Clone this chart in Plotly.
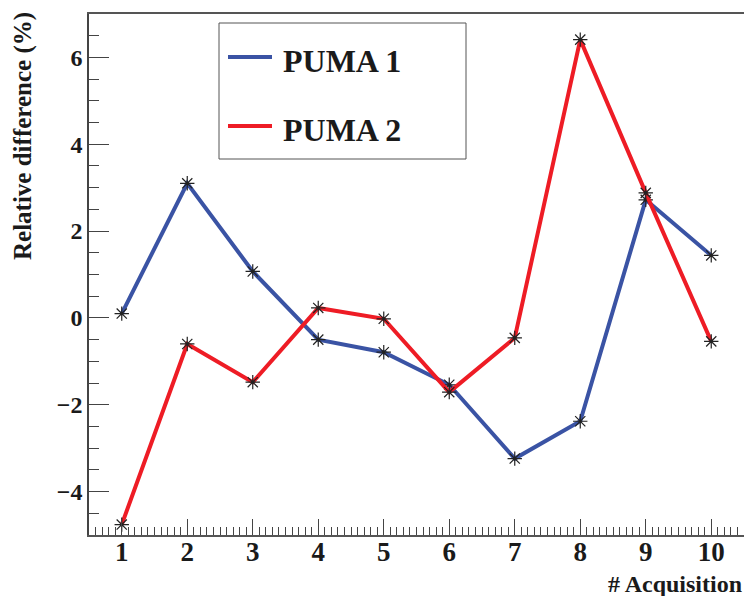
import plotly.graph_objects as go

acquisition = [1, 2, 3, 4, 5, 6, 7, 8, 9, 10]
puma1 = [0.10, 3.10, 1.07, -0.50, -0.79, -1.54, -3.24, -2.38, 2.72, 1.44]
puma2 = [-4.76, -0.60, -1.48, 0.23, -0.02, -1.71, -0.46, 6.41, 2.88, -0.54]
series_names = ["PUMA 1", "PUMA 2"]
series_colors = ["#3a53a4", "#ee1c25"]
x_range = [0.5, 10.5]
y_range = [-5, 7]

FONT = "Liberation Serif"
W, H = 744, 596
L, R, T, B = 89, 0, 14, 61
pw, ph = W - L - R, H - T - B


def px(x):
    return (x - L) / pw


def py(y):
    return (H - B - y) / ph


fig = go.Figure()
for name, vals, col in zip(series_names, [puma1, puma2], series_colors):
    fig.add_trace(go.Scatter(
        x=acquisition, y=vals, name=name, mode="lines+markers",
        line=dict(color=col, width=4),
        marker=dict(symbol="asterisk-open", size=12, color="#222222",
                    line=dict(color="#222222", width=1.2)),
        showlegend=False, cliponaxis=False,
    ))

axis_font = dict(family=FONT, size=26, color="#1a1a1a", weight="bold")
fig.update_xaxes(
    range=x_range, tickmode="linear", tick0=0, dtick=1,
    ticks="inside", ticklen=16, tickwidth=1, tickcolor="#444444",
    minor=dict(dtick=0.1, tick0=0, ticks="inside", ticklen=8, tickwidth=1,
               tickcolor="#444444", showgrid=False),
    showgrid=False, zeroline=False, showline=True, linecolor="#555555",
    linewidth=1.5, mirror=True, tickfont=dict(axis_font, size=27),
    automargin=False, ticklabelstandoff=-8,
)
fig.update_yaxes(
    range=y_range, tickmode="linear", tick0=0, dtick=2,
    ticks="inside", ticklen=20, tickwidth=1, tickcolor="#444444",
    minor=dict(dtick=0.5, tick0=0, ticks="inside", ticklen=10, tickwidth=1,
               tickcolor="#444444", showgrid=False),
    showgrid=False, zeroline=False, showline=True, linecolor="#444444",
    linewidth=1.5, mirror=False, tickfont=dict(axis_font, size=24),
    automargin=False,
)

# Legend box (drawn manually)
shapes = [dict(type="rect", xref="paper", yref="paper",
               x0=px(219), x1=px(466), y0=py(159), y1=py(23),
               line=dict(color="#555555", width=1), fillcolor="white", layer="above")]
annotations = []
for i, (name, col) in enumerate(zip(series_names, series_colors)):
    ly = [57, 126][i]
    shapes.append(dict(type="line", xref="paper", yref="paper",
                       x0=px(228), x1=px(272), y0=py(ly), y1=py(ly),
                       line=dict(color=col, width=4), layer="above"))
    annotations.append(dict(text=name, xref="paper", yref="paper",
                            x=px(281), y=py(ly + 4), xanchor="left", yanchor="middle",
                            showarrow=False,
                            font=dict(family=FONT, size=32, color="#1a1a1a", weight="bold")))

annotations.append(dict(text="Relative difference (%)", xref="paper", yref="paper",
                        x=px(23), y=py(136), xanchor="center", yanchor="middle",
                        textangle=-90, showarrow=False,
                        font=dict(family=FONT, size=25, color="#1a1a1a", weight="bold")))
annotations.append(dict(text="# Acquisition", xref="paper", yref="paper",
                        x=1.0, y=py(584), xanchor="right", yanchor="middle",
                        showarrow=False,
                        font=dict(family=FONT, size=24, color="#1a1a1a", weight="bold")))

fig.update_layout(
    width=W, height=H, margin=dict(l=L, r=R, t=T, b=B, pad=0, autoexpand=False),
    plot_bgcolor="white", paper_bgcolor="white",
    shapes=shapes, annotations=annotations, showlegend=False,
)
fig.write_html("out.html", config={"displayModeBar": False},
               post_script="document.body.style.margin='0';document.body.style.overflow='hidden';")
